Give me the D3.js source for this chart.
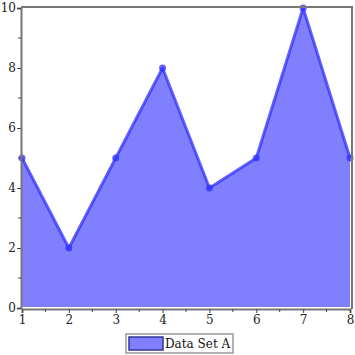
<!DOCTYPE html>
<html>
<head>
<meta charset="utf-8">
<script src="https://cdn.jsdelivr.net/npm/d3@7"></script>
<style>
  body { margin: 0; background: #fff; }
  svg { display: block; font-family: "DejaVu Serif", serif; }
</style>
</head>
<body>
<div id="chart"></div>
<script>
const width = 355, height = 355;

const xValues = [1, 2, 3, 4, 5, 6, 7, 8];
const seriesA = [5, 2, 5, 8, 4, 5, 10, 5];
const yTicks = [0, 2, 4, 6, 8, 10];
const seriesName = "Data Set A";

const data = xValues.map((x, i) => ({x, y: seriesA[i]}));

const x = d3.scaleLinear().domain([1, 8]).range([22, 350]);
const y = d3.scaleLinear().domain([0, 10]).range([308, 8]);

const svg = d3.select('#chart').append('svg')
              .attr('width', width)
              .attr('height', height);

// area
svg.append('path')
   .datum(data)
   .attr('fill', '#8080ff')
   .attr('d', d3.area().x(d => x(d.x)).y0(y(0) - 1).y1(d => y(d.y)));

// line + points
svg.append('path')
   .datum(data)
   .attr('fill', 'none')
   .attr('stroke', '#3030ff')
   .attr('stroke-opacity', 0.75)
   .attr('stroke-width', 3)
   .attr('stroke-linejoin', 'round')
   .attr('d', d3.line().x(d => x(d.x)).y(d => y(d.y)));

svg.append('g')
   .selectAll('circle')
   .data(data)
   .join('circle')
   .attr('cx', d => x(d.x))
   .attr('cy', d => y(d.y))
   .attr('r', 3.5)
   .attr('fill', '#3030ff')
   .attr('fill-opacity', 0.75);

// frame
const frame = svg.append('g').attr('fill', 'none').attr('stroke', '#777').attr('stroke-width', 2);
frame.append('path').attr('d', `M${x(1) - 1},${y(10) - 1}H${x(8) + 2}V${y(0) + 1}`);

// x axis
const xAxis = svg.append('g')
   .attr('transform', `translate(0,${y(0) + 1})`)
   .call(d3.axisBottom(x).tickValues(xValues).tickFormat(d3.format('d')).tickSize(4).tickPadding(2));
xAxis.select('.domain').attr('stroke', '#777').attr('stroke-width', 2);
xAxis.selectAll('.tick line').attr('stroke', '#444');
xAxis.selectAll('text').attr('font-size', 12).attr('fill', '#222').attr('font-family', 'DejaVu Serif');

svg.append('g')
   .attr('transform', `translate(0,${y(0) + 1})`)
   .selectAll('line')
   .data(d3.range(1.5, 8, 1))
   .join('line')
   .attr('x1', d => x(d)).attr('x2', d => x(d))
   .attr('y1', 0).attr('y2', 3)
   .attr('stroke', '#444');

// y axis
const yAxis = svg.append('g')
   .attr('transform', `translate(${x(1) - 1},0)`)
   .call(d3.axisLeft(y).tickValues(yTicks).tickSize(4).tickPadding(1));
yAxis.select('.domain').attr('stroke', '#777').attr('stroke-width', 2);
yAxis.selectAll('.tick line').attr('stroke', '#444');
yAxis.selectAll('text').attr('font-size', 12).attr('fill', '#222').attr('font-family', 'DejaVu Serif');

svg.append('g')
   .attr('transform', `translate(${x(1) - 1},0)`)
   .selectAll('line')
   .data([1, 3, 5, 7, 9])
   .join('line')
   .attr('x1', 0).attr('x2', -3)
   .attr('y1', d => y(d)).attr('y2', d => y(d))
   .attr('stroke', '#444');

// legend
const legend = svg.append('g').attr('transform', 'translate(126,334)');
legend.append('rect')
      .attr('width', 107).attr('height', 19)
      .attr('fill', '#fff').attr('stroke', '#999').attr('stroke-width', 1.5);
legend.append('rect')
      .attr('x', 3).attr('y', 3).attr('width', 34).attr('height', 13)
      .attr('fill', '#8080ff').attr('stroke', '#333399').attr('stroke-width', 1.5);
legend.append('text')
      .attr('x', 39).attr('y', 14)
      .attr('font-size', 12).attr('fill', '#111')
      .text(seriesName);
</script>
</body>
</html>
